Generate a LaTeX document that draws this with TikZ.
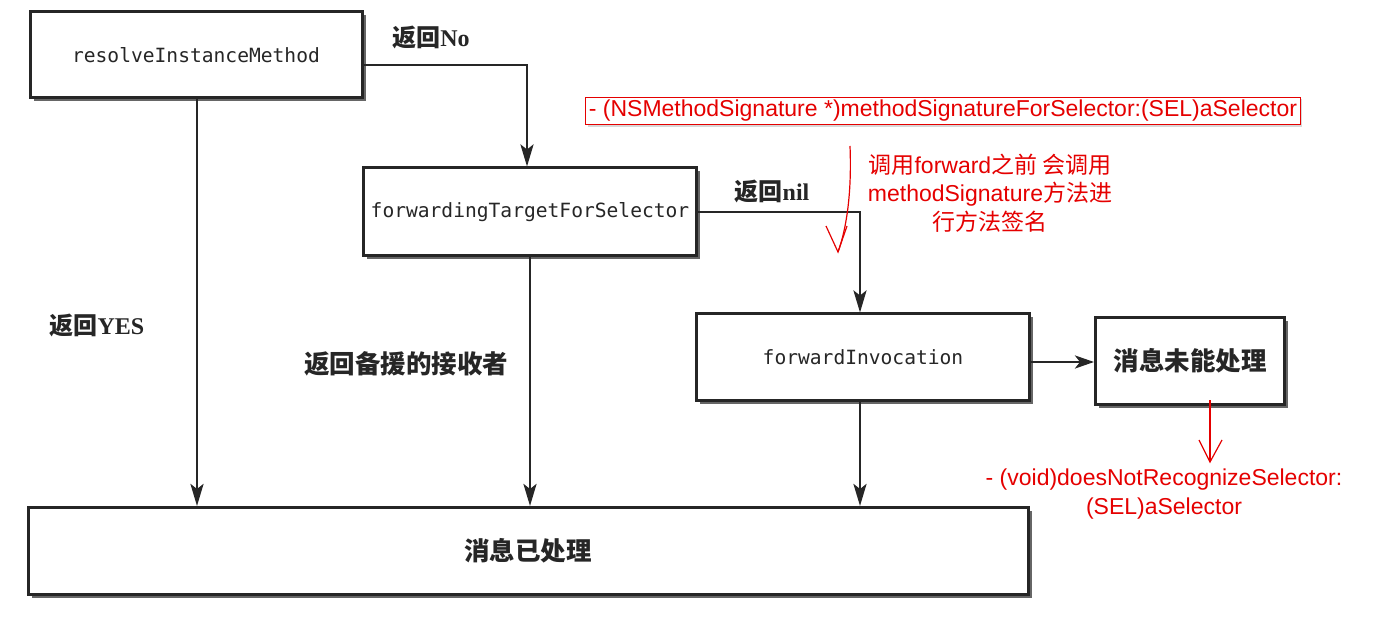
\documentclass[tikz,border=0pt]{standalone}
\usepackage{fontspec}
\setmainfont{Liberation Serif}
\newfontfamily\cjk{Noto Sans CJK SC}
\newfontfamily\code{DejaVu Sans Mono}
\newfontfamily\note{Liberation Sans}
\usetikzlibrary{shadows,arrows.meta}
\begin{document}
\begin{tikzpicture}[x=1pt,y=-1pt,
  box/.style={draw=black!85,line width=3pt,fill=white,
    drop shadow={shadow xshift=3.5pt,shadow yshift=-3.5pt,fill=black!70,opacity=0.85},
    minimum width=#1},
  box/.default=332pt,
  codetxt/.style={font=\code\fontsize{19.6}{22}\selectfont,text=black!85},
  cntxt/.style={font=\cjk\bfseries\fontsize{25.5}{28}\selectfont,text=black!85},
  lbl/.style={font=\fontsize{24}{28}\selectfont\bfseries,text=black!85},
  conn/.style={draw=black!85,line width=2.8pt,-{Stealth[length=22pt,width=13pt,inset=5pt]}},
  rednote/.style={text=red!90!black,font=\note\fontsize{23}{29}\selectfont},
  redline/.style={draw=red!90!black,line width=1.2pt}]
\useasboundingbox (0,0) rectangle (1382,620);
\fill[white] (0,0) rectangle (1382,620);
% boxes
\node[box,codetxt,minimum height=86pt] (rim) at (196,55) {resolveInstanceMethod};
\node[box,codetxt,minimum height=88pt,minimum width=333pt] (ftfs) at (530,212) {forwardingTargetForSelector};
\node[box,codetxt,minimum height=86pt,minimum width=333pt] (fi) at (863,357) {forwardInvocation};
\node[box=189pt,cntxt,minimum height=87pt] (unh) at (1190,361) {消息未能处理};
\node[box=1000pt,cntxt,minimum height=87pt] (done) at (528,551) {消息已处理};
% labels
\node[lbl] (lno) at (431,38) {{\cjk 返回}No};
\node[lbl] (lyes) at (97,326) {{\cjk 返回}YES};
\node[lbl] (lnil) at (772,192) {{\cjk 返回}nil};
\node[lbl,font=\cjk\bfseries\fontsize{25.5}{28}\selectfont] (lbak) at (406,364) {返回备援的接收者};
% connectors
\draw[conn] (rim.east |- 0,65) -| (ftfs.north -| 527,0);
\draw[conn] (ftfs.east) -| (fi.north -| 860,0);
\draw[conn] (rim.south -| 197,0) -- (done.north -| 197,0);
\draw[conn] (ftfs.south -| 530,0) -- (done.north -| 530,0);
\draw[conn] (fi.south -| 860,0) -- (done.north -| 860,0);
\draw[conn,-{Stealth[length=19pt,width=13pt,inset=5pt]}] (fi.east |- 0,362) -- (unh.west |- 0,362);
% red notes
\node[rednote,draw=red!90!black,line width=1pt,inner sep=3pt,fill=white,
  drop shadow={shadow xshift=2pt,shadow yshift=-2pt,fill=black!25,opacity=0.6}]
  (sig) at (943,111) {- (NSMethodSignature *)methodSignatureForSelector:(SEL)aSelector};
\node[rednote,align=center,font=\cjk\fontsize{23}{28.5}\selectfont] (expl) at (990,193)
  {调用{\note forward}之前 会调用\\{\note methodSignature}方法进\\行方法签名};
\coordinate (c1) at (850,146);
\coordinate (c2) at (838,252);
\draw[redline] (c1) .. controls (852,195) and (846,230) .. (c2);
\draw[redline] (826,226) -- (c2) -- (847,226);
\coordinate (d1) at (1210,400);
\coordinate (d2) at (1210,462);
\draw[redline] (d1) -- (d2);
\draw[redline] (1199,440) -- (d2) -- (1222,440);
\node[rednote,align=center] (dnr) at (1164,494) {- (void)doesNotRecognizeSelector:\\(SEL)aSelector};
\end{tikzpicture}
\end{document}
